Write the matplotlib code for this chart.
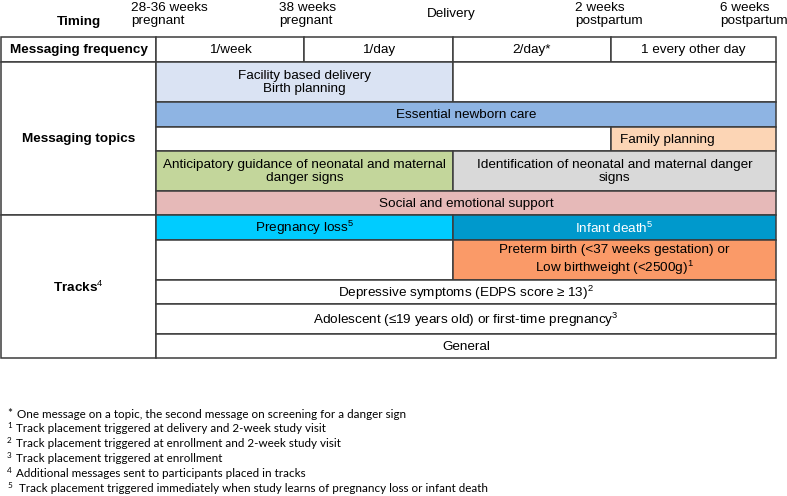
import matplotlib
matplotlib.use("Agg")
import matplotlib.pyplot as plt
from matplotlib.patches import Rectangle

plt.rcParams["font.family"] = ["Liberation Sans", "DejaVu Sans"]
plt.rcParams["mathtext.fontset"] = "custom"
plt.rcParams["mathtext.rm"] = "Liberation Sans"
plt.rcParams["mathtext.bf"] = "Liberation Sans:bold"

# ---- content ----
timing_labels = ["28-36 weeks\npregnant", "38 weeks\npregnant", "Delivery",
                 "2 weeks\npostpartum", "6 weeks\npostpartum"]
frequencies = ["1/week", "1/day", "2/day*", "1 every other day"]
section_labels = ["Messaging frequency", "Messaging topics", "Tracks$^4$"]

# topic cells: row index, first column, last column (columns 0..3 = 4 periods)
topic_labels = ["Facility based delivery\nBirth planning", "",
                "Essential newborn care",
                "", "Family planning",
                "Anticipatory guidance of neonatal and maternal\ndanger signs",
                "Identification of neonatal and maternal danger\nsigns",
                "Social and emotional support"]
topic_rows = [0, 0, 1, 2, 2, 3, 3, 4]
topic_first = [0, 2, 0, 0, 3, 0, 2, 0]
topic_last = [1, 3, 3, 2, 3, 1, 3, 3]

track_labels = ["Pregnancy loss$^5$", "Infant death$^5$",
                "", "Preterm birth (<37 weeks gestation) or\nLow birthweight (<2500g)$^1$",
                "Depressive symptoms (EDPS score \u2265 13)$^2$",
                "Adolescent (\u226419 years old) or first-time pregnancy$^3$",
                "General"]
track_rows = [0, 0, 1, 1, 2, 3, 4]
track_first = [0, 2, 0, 2, 0, 0, 0]
track_last = [1, 3, 1, 3, 3, 3, 3]

footnote_marks = ["*", "1", "2", "3", "4", "5"]
footnote_texts = [
    "One message on a topic, the second message on screening for a danger sign",
    "Track placement triggered at delivery and 2-week study visit",
    "Track placement triggered at enrollment and 2-week study visit",
    "Track placement triggered at enrollment",
    "Additional messages sent to participants placed in tracks",
    "Track placement triggered immediately when study learns of pregnancy loss or infant death",
]

# ---- styles / layout ----
cell_colors = {
    "Facility based delivery\nBirth planning": "#dae3f3",
    "Essential newborn care": "#8eb4e3",
    "Family planning": "#fcd5b5",
    "Anticipatory guidance of neonatal and maternal\ndanger signs": "#c3d69b",
    "Identification of neonatal and maternal danger\nsigns": "#d9d9d9",
    "Social and emotional support": "#e6b9b8",
    "Pregnancy loss$^5$": "#00ccff",
    "Infant death$^5$": "#0099cc",
    "Preterm birth (<37 weeks gestation) or\nLow birthweight (<2500g)$^1$": "#fa9a68",
}
white_text = {"Infant death$^5$"}
left_text = {"Family planning"}

col_edges = [1, 156, 304, 453, 611, 776]
freq_rows = [37, 62]
topic_row_edges = [62, 102, 127, 151, 191, 215]
track_row_edges = [215, 240, 280, 304, 334, 358]
timing_x = [131, 279, 451, 575, 720]
line_col = "#3c3c3c"
fs = 9.7

fig = plt.figure(figsize=(7.87, 4.96), dpi=100)
ax = fig.add_axes([0, 0, 1, 1])
ax.set_xlim(0, 787)
ax.set_ylim(496, 0)
ax.axis("off")


def cell(x0, x1, y0, y1, label="", color="white", bold=False, tcolor="black", left=False):
    ax.add_patch(Rectangle((x0, y0), x1 - x0, y1 - y0, facecolor=color,
                           edgecolor=line_col, lw=1.1))
    if label:
        tx = x0 + 9 if left else (x0 + x1) / 2
        ax.text(tx, (y0 + y1) / 2 + 0.5, label, ha="left" if left else "center",
                va="center", fontsize=fs, color=tcolor,
                fontweight="bold" if bold else "normal", linespacing=1.2)


# timing header
ax.text((col_edges[0] + col_edges[1]) / 2, 22, "Timing", ha="center", va="center",
        fontsize=fs, fontweight="bold")
for lab, x in zip(timing_labels, timing_x):
    if "\n" in lab:
        ax.text(x, 14.5, lab, ha="left", va="center", fontsize=fs, linespacing=1.22)
    else:
        ax.text(x, 14.5, lab, ha="center", va="center", fontsize=fs)

# frequency row
cell(col_edges[0], col_edges[1], freq_rows[0], freq_rows[1], section_labels[0], bold=True)
for i, f in enumerate(frequencies):
    cell(col_edges[i + 1], col_edges[i + 2], freq_rows[0], freq_rows[1], f)

# messaging topics
cell(col_edges[0], col_edges[1], topic_row_edges[0], topic_row_edges[-1],
     section_labels[1], bold=True)
for lab, r, a, b in zip(topic_labels, topic_rows, topic_first, topic_last):
    cell(col_edges[a + 1], col_edges[b + 2], topic_row_edges[r], topic_row_edges[r + 1],
         lab, cell_colors.get(lab, "white"), left=lab in left_text)

# tracks
cell(col_edges[0], col_edges[1], track_row_edges[0], track_row_edges[-1],
     section_labels[2], bold=True)
for lab, r, a, b in zip(track_labels, track_rows, track_first, track_last):
    cell(col_edges[a + 1], col_edges[b + 2], track_row_edges[r], track_row_edges[r + 1],
         lab, cell_colors.get(lab, "white"),
         tcolor="white" if lab in white_text else "black")

# footnotes
fn_font = ["Lato", "DejaVu Sans"]
fn_x = [17, 16, 16, 16, 16, 19]
for i, (m, t) in enumerate(zip(footnote_marks, footnote_texts)):
    y = 414 + i * 14.9
    if m == "*":
        ax.text(7, y - 1, m, ha="left", va="center", fontsize=8.4, family=fn_font)
    else:
        ax.text(7, y - 3, m, ha="left", va="center", fontsize=5.9, family=fn_font)
    ax.text(fn_x[i], y, t, ha="left", va="center", fontsize=8.4, family=fn_font)

fig.savefig("out.png", dpi=100)
